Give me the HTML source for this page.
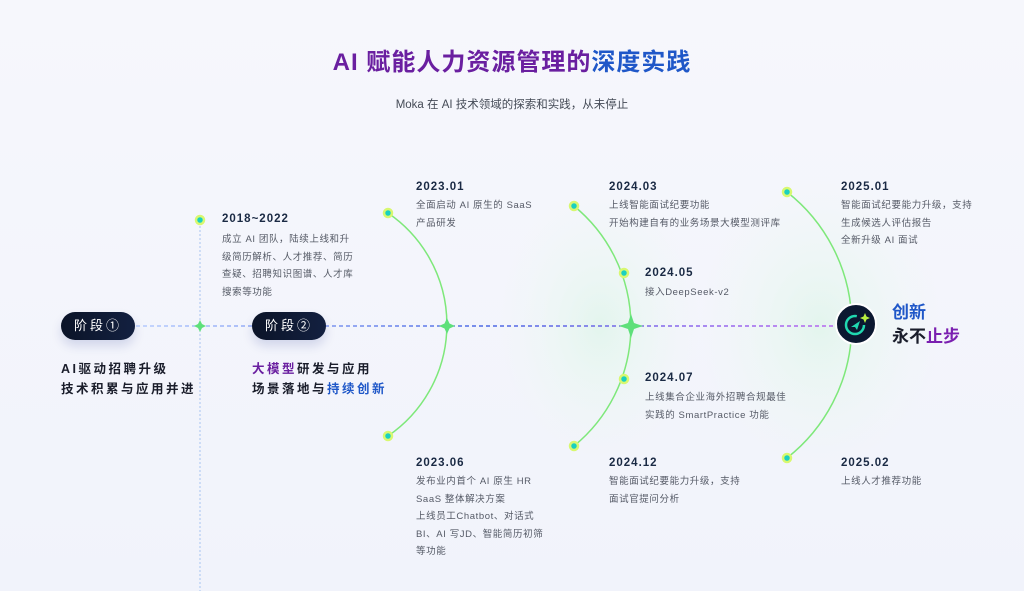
<!DOCTYPE html>
<html><head><meta charset="utf-8"><style>
body{margin:0;width:1024px;height:591px;overflow:hidden;background:linear-gradient(180deg,#f6f7fc 0%,#f1f3fb 100%);font-family:"Liberation Sans","Noto Sans CJK SC",sans-serif;position:relative}
.t{position:absolute;white-space:nowrap}
.yr{font-size:11.5px;font-weight:bold;color:#1a2a44;letter-spacing:1px}
.d{font-size:9.5px;color:#555a66;line-height:17.5px;letter-spacing:.6px}
.pill{position:absolute;width:74px;height:28px;border-radius:14px;background:linear-gradient(90deg,#0b1428,#132040);color:#fff;font-size:13px;text-align:center;line-height:28px;letter-spacing:3px;box-shadow:0 6px 10px rgba(60,80,160,.18)}
.h{font-size:12.5px;font-weight:bold;color:#1a1d2b;line-height:20px;letter-spacing:2.5px}
</style></head><body>
<div class="t" style="left:0;width:1024px;top:42px;text-align:center;font-size:24px;font-weight:bold;letter-spacing:1px"><span style="color:#6a1fa0">AI 赋能人力资源管理的</span><span style="color:#1f57c8">深度实践</span></div>
<div class="t" style="left:0;width:1024px;top:96px;text-align:center;font-size:11.5px;color:#444a56">Moka 在 AI 技术领域的探索和实践，从未停止</div>
<svg width="1024" height="591" style="position:absolute;left:0;top:0">
<defs><linearGradient id="g" gradientUnits="userSpaceOnUse" x1="136" y1="0" x2="838" y2="0"><stop offset="0" stop-color="#aac4ff"/><stop offset=".5" stop-color="#2a4ce0"/><stop offset="1" stop-color="#b04af0"/></linearGradient>
<radialGradient id="gl"><stop offset="0" stop-color="#dff5ea" stop-opacity=".8"/><stop offset="1" stop-color="#eef8f2" stop-opacity="0"/></radialGradient></defs>
<ellipse cx="820" cy="326" rx="120" ry="150" fill="url(#gl)"/>
<ellipse cx="600" cy="326" rx="100" ry="140" fill="url(#gl)"/>
<line x1="200" y1="222" x2="200" y2="591" stroke="#a8c4f0" stroke-dasharray="2 2"/>
<line x1="136" y1="326" x2="838" y2="326" stroke="url(#g)" stroke-width="1.2" stroke-dasharray="4 3"/>
<path d="M388 213 A135 135 0 0 1 388 436" fill="none" stroke="#7ee87a" stroke-width="1.5"/>
<path d="M574 206 A155 155 0 0 1 574 446" fill="none" stroke="#7ee87a" stroke-width="1.5"/>
<path d="M787 192 A169 169 0 0 1 787 458" fill="none" stroke="#7ee87a" stroke-width="1.5"/>
<g fill="#5ee07a">
<path d="M200 320 L202 324 L206 326 L202 328 L200 332 L198 328 L194 326 L198 324Z"/>
<path d="M447 318 L449.5 323.5 L455 326 L449.5 328.5 L447 334 L444.5 328.5 L439 326 L444.5 323.5Z"/>
<path d="M631 314 L634 323 L643 326 L634 329 L631 338 L628 329 L619 326 L628 323Z"/>
</g>
<g fill="#1ad0c0" stroke="#d8f870" stroke-width="2.5">
<circle cx="200" cy="220" r="4"/><circle cx="388" cy="213" r="4"/><circle cx="388" cy="436" r="4"/>
<circle cx="574" cy="206" r="4"/><circle cx="624" cy="273" r="4"/><circle cx="624" cy="379" r="4"/><circle cx="574" cy="446" r="4"/>
<circle cx="787" cy="192" r="4"/><circle cx="787" cy="458" r="4"/></g>
<circle cx="856" cy="324" r="20" fill="#0b1830" stroke="#fff" stroke-width="2"/>
<circle cx="855" cy="325" r="9" fill="none" stroke="#20d8b0" stroke-width="2.5" stroke-dasharray="44 14"/>
<path d="M851 327 L860 321 L857 330 L855 327Z" fill="#20d8b0"/>
<path d="M865 313 L866.5 316.5 L870 318 L866.5 319.5 L865 323 L863.5 319.5 L860 318 L863.5 316.5Z" fill="#b8f040"/>
</svg>
<div class="pill" style="left:61px;top:312px">阶段①</div>
<div class="pill" style="left:252px;top:312px">阶段②</div>
<div class="t h" style="left:61px;top:359px">AI驱动招聘升级<br>技术积累与应用并进</div>
<div class="t h" style="left:252px;top:359px"><span style="color:#6a1fa0">大模型</span>研发与应用<br>场景落地与<span style="color:#1f57c8">持续创新</span></div>
<div class="t yr" style="left:222px;top:213px">2018~2022</div>
<div class="t d" style="left:222px;top:231px">成立 AI 团队，陆续上线和升<br>级简历解析、人才推荐、简历<br>查疑、招聘知识图谱、人才库<br>搜索等功能</div>
<div class="t yr" style="left:416px;top:181px">2023.01</div>
<div class="t d" style="left:416px;top:197px">全面启动 AI 原生的 SaaS<br>产品研发</div>
<div class="t yr" style="left:416px;top:457px">2023.06</div>
<div class="t d" style="left:416px;top:473px">发布业内首个 AI 原生 HR<br>SaaS 整体解决方案<br>上线员工Chatbot、对话式<br>BI、AI 写JD、智能简历初筛<br>等功能</div>
<div class="t yr" style="left:609px;top:181px">2024.03</div>
<div class="t d" style="left:609px;top:197px">上线智能面试纪要功能<br>开始构建自有的业务场景大模型测评库</div>
<div class="t yr" style="left:645px;top:267px">2024.05</div>
<div class="t d" style="left:645px;top:284px">接入DeepSeek-v2</div>
<div class="t yr" style="left:645px;top:372px">2024.07</div>
<div class="t d" style="left:645px;top:389px">上线集合企业海外招聘合规最佳<br>实践的 SmartPractice 功能</div>
<div class="t yr" style="left:609px;top:457px">2024.12</div>
<div class="t d" style="left:609px;top:473px">智能面试纪要能力升级，支持<br>面试官提问分析</div>
<div class="t yr" style="left:841px;top:181px">2025.01</div>
<div class="t d" style="left:841px;top:197px">智能面试纪要能力升级，支持<br>生成候选人评估报告<br>全新升级 AI 面试</div>
<div class="t yr" style="left:841px;top:457px">2025.02</div>
<div class="t d" style="left:841px;top:473px">上线人才推荐功能</div>
<div class="t" style="left:892px;top:301px;font-size:17px;font-weight:bold;line-height:24px"><span style="color:#1f57c8">创新</span><br><span style="color:#1a1d2b">永不</span><span style="color:#7a1fb0">止步</span></div>
</body></html>
